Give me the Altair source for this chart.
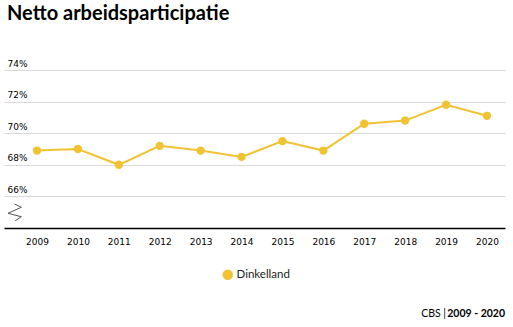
import altair as alt
import pandas as pd

years = ["2009", "2010", "2011", "2012", "2013", "2014", "2015", "2016", "2017", "2018", "2019", "2020"]
values = [68.9, 69.0, 68.0, 69.2, 68.9, 68.5, 69.5, 68.9, 70.6, 70.8, 71.8, 71.1]
region = ["Dinkelland"] * len(years)
y_ticks = [66, 68, 70, 72, 74]

YELLOW = "#f1c232"
df = pd.DataFrame({"jaar": years, "waarde": values, "gemeente": region})

W, H = 501, 158

x_enc = alt.X("jaar:O", scale=alt.Scale(type="point", padding=0.6235, align=0.647),
              axis=alt.Axis(title=None, labelAngle=0, ticks=False, domainColor="#000000",
                            domainWidth=1.5, labelFont="DejaVu Sans", labelFontSize=9,
                            labelColor="#000000", labelPadding=9, grid=False))
y_enc = alt.Y("waarde:Q", scale=alt.Scale(domain=[64, 74], nice=False, zero=False),
              axis=alt.Axis(title=None, values=y_ticks, format=".0f", labelExpr="datum.value + '%'",
                            ticks=False, domain=False, labelAlign="left", labelPadding=-3,
                            labelBaseline="bottom", labelOffset=-2,
                            labelFont="DejaVu Sans", labelFontSize=9, labelColor="#000000",
                            grid=True, gridColor="#d9d9d9", gridWidth=1.2))

base = alt.Chart(df)
line = base.mark_line(color=YELLOW, strokeWidth=2).encode(x=x_enc, y=y_enc)
points = base.mark_circle(size=70, opacity=1).encode(
    x=x_enc, y=y_enc,
    color=alt.Color("gemeente:N", scale=alt.Scale(range=[YELLOW]),
                    legend=alt.Legend(title=None, orient="none", legendX=218, legendY=199,
                                      symbolType="circle", symbolSize=110, symbolStrokeWidth=0,
                                      labelFont="Lato", labelFontSize=11.5, labelColor="#222222",
                                      labelOffset=3))
)

def seg(x1, y1, x2, y2):
    return alt.Chart(alt.Data(values=[{}])).mark_rule(color="#555555", strokeWidth=1).encode(
        x=alt.value(x1), y=alt.value(y1), x2=alt.value(x2), y2=alt.value(y2))

brk = seg(10.7, 134, 17.3, 137.3) + seg(17.3, 137.3, 4, 143.3) + seg(4, 143.3, 17.3, 146.7) + seg(17.3, 146.7, 11.3, 150.7)

footer_a = alt.Chart(alt.Data(values=[{}])).mark_text(
    text="CBS |", align="right", baseline="alphabetic", font="Lato", fontSize=10.5, color="#000000"
).encode(x=alt.value(442), y=alt.value(247))
footer_b = alt.Chart(alt.Data(values=[{}])).mark_text(
    text="2009 - 2020", align="right", baseline="alphabetic", font="Lato", fontSize=10.5,
    fontWeight="bold", color="#000000"
).encode(x=alt.value(501), y=alt.value(247))

chart = alt.layer(line, points, brk, footer_a, footer_b).properties(
    width=W, height=H,
    title=alt.TitleParams("Netto arbeidsparticipatie", anchor="start", frame="group",
                          font="Lato", fontSize=20, fontWeight="bold", color="#000000",
                          dx=3, offset=35),
    autosize=alt.AutoSizeParams(type="none"),
    padding={"left": 4, "top": 70, "right": 8, "bottom": 99},
).configure_view(stroke=None)

chart.save("out.html", embed_options={"renderer": "svg", "actions": False})
